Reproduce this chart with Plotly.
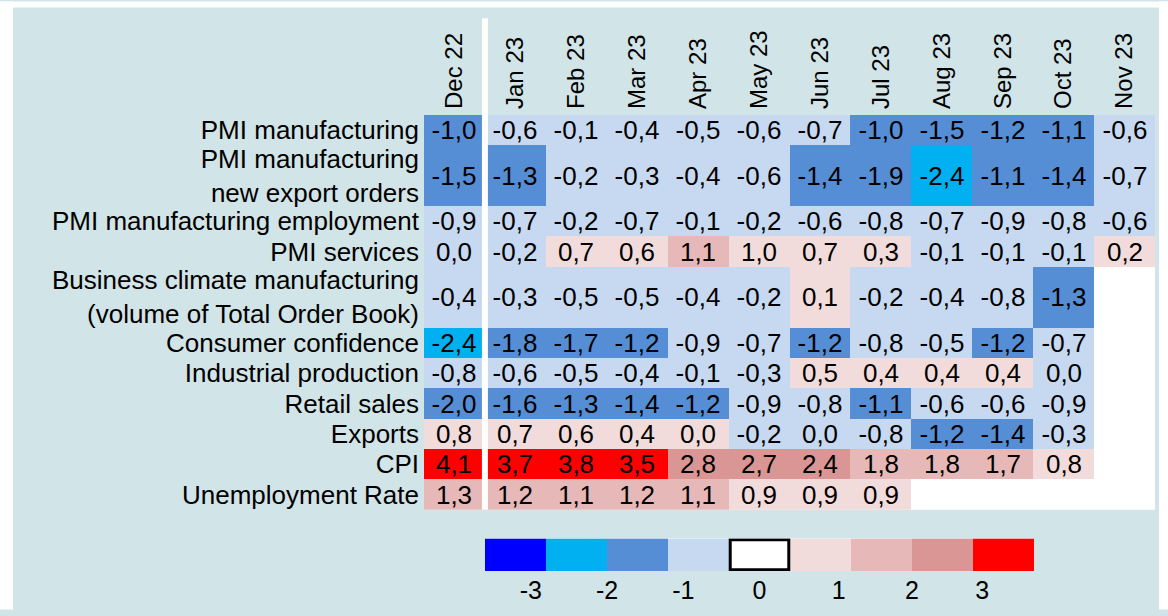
import numpy as np
import plotly.graph_objects as go

# ---------------- data ----------------
months = ["Dec 22", "Jan 23", "Feb 23", "Mar 23", "Apr 23", "May 23",
          "Jun 23", "Jul 23", "Aug 23", "Sep 23", "Oct 23", "Nov 23"]

indicators = [
    "PMI manufacturing",
    "PMI manufacturing<br>new export orders",
    "PMI manufacturing employment",
    "PMI services",
    "Business climate manufacturing<br>(volume of Total Order Book)",
    "Consumer confidence",
    "Industrial production",
    "Retail sales",
    "Exports",
    "CPI",
    "Unemployment Rate",
]

nan = np.nan
# values as read; a second decimal is estimated where the cell colour shows
# on which side of a class boundary the unrounded value lies
pmi_manufacturing = [-1.02, -0.6, -0.1, -0.4, -0.5, -0.6, -0.7, -1.02, -1.5, -1.2, -1.1, -0.6]
pmi_export_orders = [-1.5, -1.3, -0.2, -0.3, -0.4, -0.6, -1.4, -1.9, -2.4, -1.1, -1.4, -0.7]
pmi_employment = [-0.9, -0.7, -0.2, -0.7, -0.1, -0.2, -0.6, -0.8, -0.7, -0.9, -0.8, -0.6]
pmi_services = [-0.02, -0.2, 0.7, 0.6, 1.1, 0.98, 0.7, 0.3, -0.1, -0.1, -0.1, 0.2]
business_climate = [-0.4, -0.3, -0.5, -0.5, -0.4, -0.2, 0.1, -0.2, -0.4, -0.8, -1.3, nan]
consumer_confidence = [-2.4, -1.8, -1.7, -1.2, -0.9, -0.7, -1.2, -0.8, -0.5, -1.2, -0.7, nan]
industrial_production = [-0.8, -0.6, -0.5, -0.4, -0.1, -0.3, 0.5, 0.4, 0.4, 0.4, -0.03, nan]
retail_sales = [-1.96, -1.6, -1.3, -1.4, -1.2, -0.9, -0.8, -1.1, -0.6, -0.6, -0.9, nan]
exports = [0.8, 0.7, 0.6, 0.4, 0.04, -0.2, -0.04, -0.8, -1.2, -1.4, -0.3, nan]
cpi = [4.1, 3.7, 3.8, 3.5, 2.8, 2.7, 2.4, 1.8, 1.8, 1.7, 0.8, nan]
unemployment_rate = [1.3, 1.2, 1.1, 1.2, 1.1, 0.9, 0.9, 0.9, nan, nan, nan, nan]

class_edges = [-3, -2, -1, 0, 1, 2, 3]
legend_labels = ["-3", "-2", "-1", "0", "1", "2", "3"]
class_colors = ["#0000FF", "#00B0F0", "#558ED5", "#C6D9F1", "#FFFFFF",
                "#F2DCDB", "#E6B9B8", "#D99694", "#FF0000"]

# ---------------- styling / geometry ----------------
FONT = "Liberation Sans, Arial, sans-serif"
TEAL = "#D1E4E7"
W, H = 1168, 616
L, R, T, B = 424, 13, 115, 39
PW, PH = W - L - R, H - T - B
GRID_BOTTOM_PX = 515
LEG_TOP_PX = 544
LEG_X0_PX, LEG_X1_PX = 485, 1034


def px_x(px):
    return (px - L) / PW


def px_y(py):
    return (H - B - py) / PH


rows = [pmi_manufacturing, pmi_export_orders, pmi_employment, pmi_services,
        business_climate, consumer_confidence, industrial_production,
        retail_sales, exports, cpi, unemployment_rate]
values = np.array(rows, dtype=float)

# colour class index (white class "0" is only shown in the key)
cls = np.digitize(np.nan_to_num(values), class_edges).astype(float)
cls = cls + (cls >= 4)
cls[np.isnan(values)] = np.nan


def fmt(v):
    if np.isnan(v):
        return ""
    s = f"{round(v, 1):.1f}"
    if s == "-0.0":
        s = "0.0"
    return s.replace(".", ",")


text = [[fmt(v) for v in r] for r in values]

# row heights follow number of label lines
units = [lab.count("<br>") + 1 for lab in indicators]
y_edges = np.concatenate([[0], np.cumsum(units)])
y_centers = (y_edges[:-1] + y_edges[1:]) / 2

n = len(class_colors)
colorscale = []
for i, c in enumerate(class_colors):
    colorscale.append([i / n, c])
    colorscale.append([(i + 1) / n, c])

fig = go.Figure()
fig.add_trace(go.Heatmap(
    x=list(range(len(months))), y=y_edges, z=cls, text=text,
    texttemplate="%{text}", textfont=dict(size=26, color="black", family=FONT),
    colorscale=colorscale, zmin=-0.5, zmax=n - 0.5, showscale=False,
    hoverinfo="skip", xaxis="x", yaxis="y"))

fig.add_trace(go.Heatmap(
    x=list(range(n)), y=[0], z=[list(range(n))],
    colorscale=colorscale, zmin=-0.5, zmax=n - 0.5, showscale=False,
    hoverinfo="skip", xaxis="x2", yaxis="y2"))

main_bottom = px_y(GRID_BOTTOM_PX)
leg_top = px_y(LEG_TOP_PX)

fig.update_layout(
    width=W, height=H,
    margin=dict(l=L, r=R, t=T, b=B, pad=0),
    paper_bgcolor=TEAL, plot_bgcolor="white",
    font=dict(family=FONT, size=26, color="black"),
    showlegend=False,
    xaxis=dict(domain=[0, 1], anchor="y", side="top",
               range=[-0.5, len(months) - 0.5],
               tickvals=list(range(len(months))), ticktext=months,
               tickangle=-90, tickfont=dict(size=24), ticks="",
               ticklabelstandoff=5,
               showgrid=False, zeroline=False, showline=False, fixedrange=True),
    yaxis=dict(domain=[main_bottom, 1], anchor="x",
               range=[y_edges[-1], 0],
               tickvals=list(y_centers), ticktext=indicators,
               ticks="", ticklabelstandoff=4,
               showgrid=False, zeroline=False, showline=False, fixedrange=True),
    xaxis2=dict(domain=[px_x(LEG_X0_PX), px_x(LEG_X1_PX)], anchor="y2",
                range=[-0.5, n - 0.5],
                tickvals=[0.25, 1.5, 2.75, 4.0, 5.3, 6.5, 7.65],
                ticktext=legend_labels, ticks="", ticklabelstandoff=2,
                tickfont=dict(size=25),
                showgrid=False, zeroline=False, showline=False, fixedrange=True),
    yaxis2=dict(domain=[0, leg_top], anchor="x2", range=[-0.5, 0.5],
                visible=False, fixedrange=True),
)

shapes = [
    # white strips at the picture edges
    dict(type="rect", xref="paper", yref="paper", layer="below",
         x0=px_x(0), x1=px_x(W), y0=px_y(6), y1=px_y(0),
         fillcolor="white", line=dict(width=0)),
    dict(type="rect", xref="paper", yref="paper", layer="below",
         x0=px_x(0), x1=px_x(13), y0=px_y(H), y1=px_y(0),
         fillcolor="white", line=dict(width=0)),
    dict(type="rect", xref="paper", yref="paper", layer="below",
         x0=px_x(1159), x1=px_x(W), y0=px_y(H), y1=px_y(0),
         fillcolor="white", line=dict(width=0)),
    # divider between Dec 22 and the 2023 months
    dict(type="line", xref="x domain", yref="paper",
         x0=1 / len(months), x1=1 / len(months),
         y0=main_bottom, y1=px_y(17),
         line=dict(color="white", width=6)),
    # black frame around the neutral class in the key
    dict(type="rect", xref="x2", yref="y2",
         x0=3.52, x1=4.48, y0=-0.46, y1=0.46,
         line=dict(color="black", width=3), fillcolor="rgba(0,0,0,0)"),
]
fig.update_layout(shapes=shapes)

fig.write_html("out.html")
